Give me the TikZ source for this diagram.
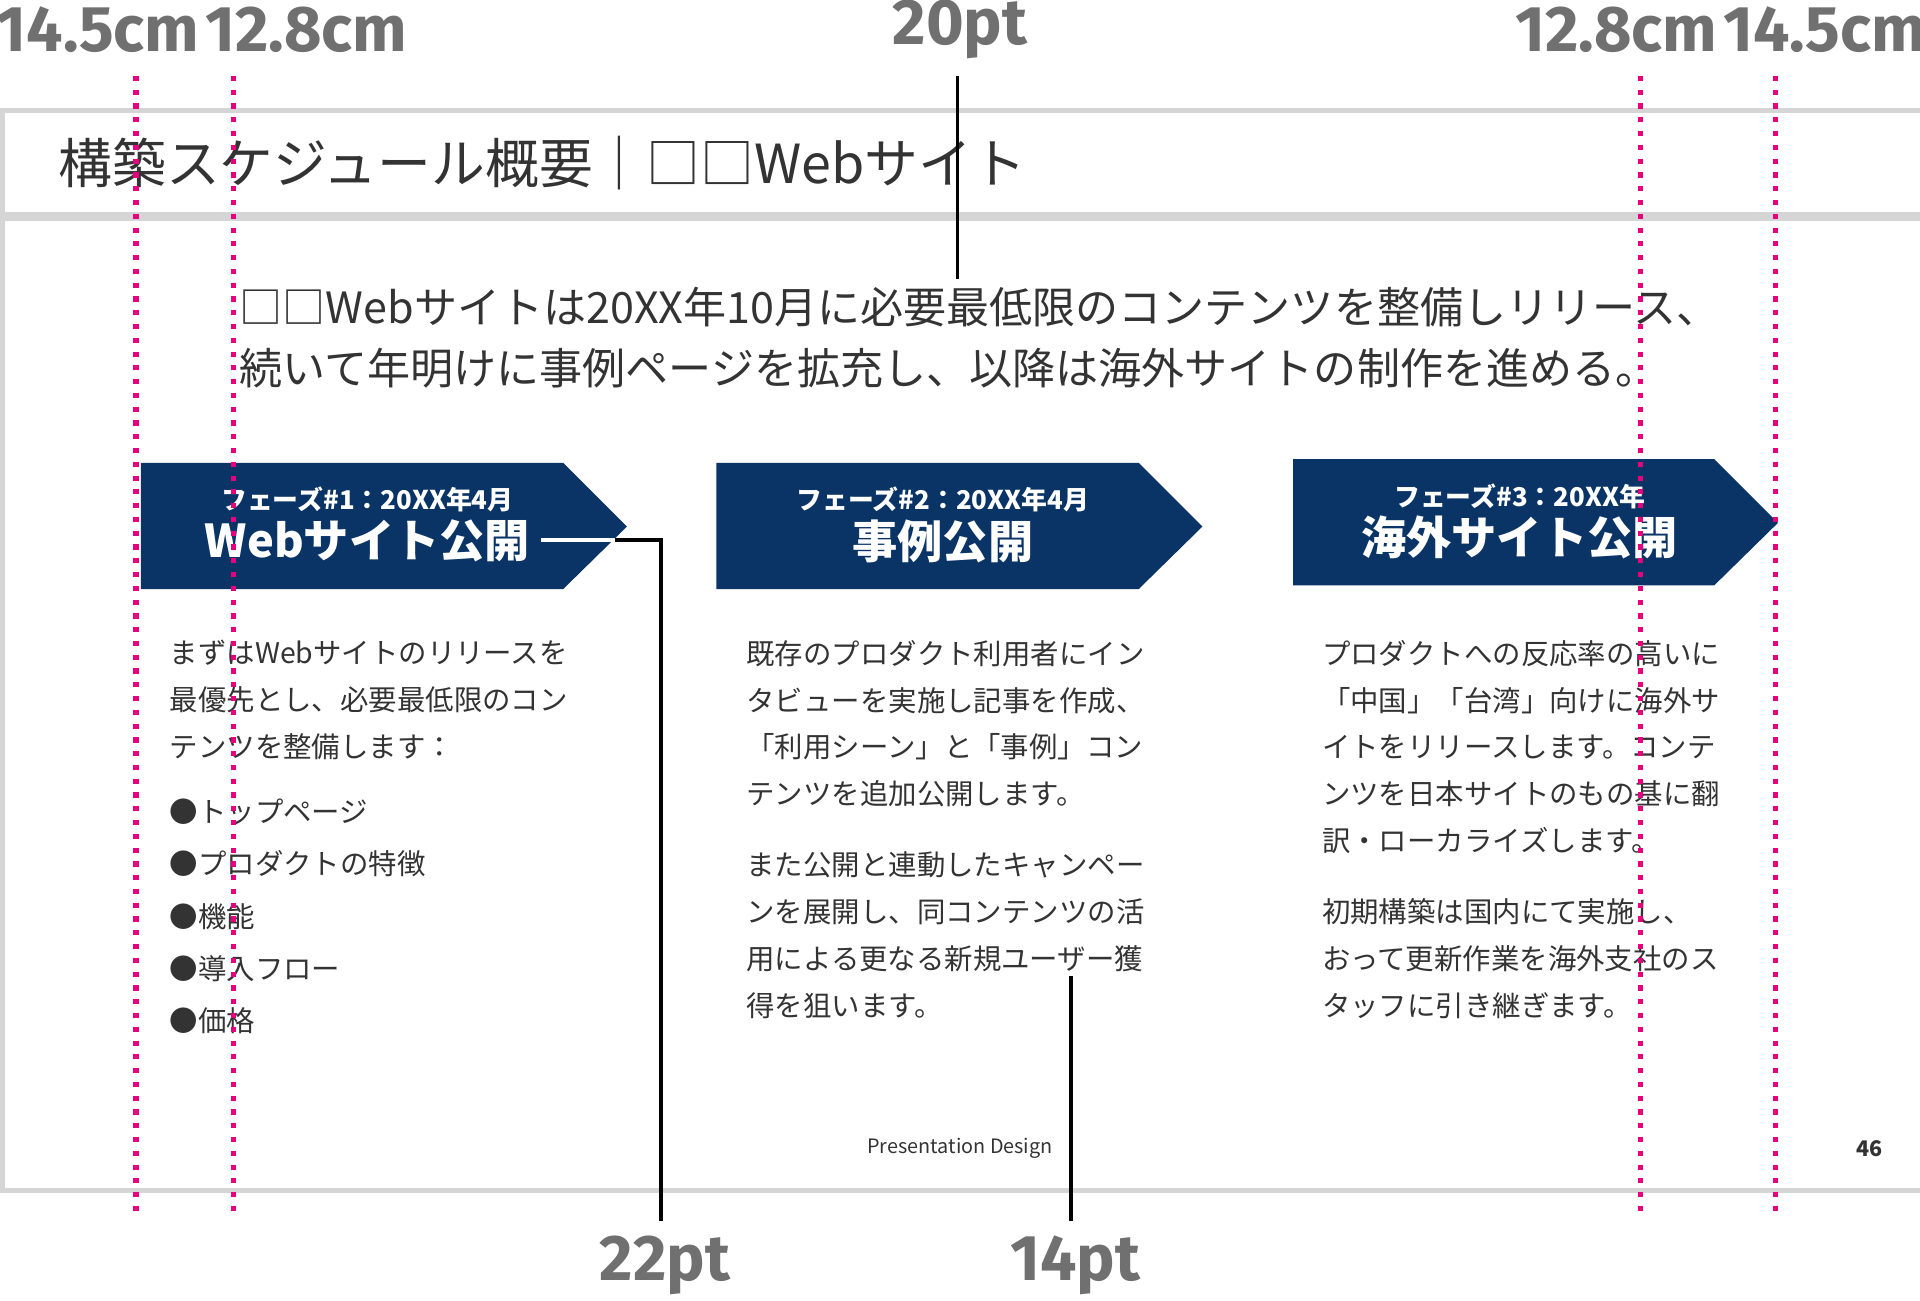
\documentclass[tikz,border=0pt]{standalone}
\usepackage{fontspec}
\setmainfont{Noto Sans CJK JP}
\newfontfamily\dimfont{Fira Sans}
\usetikzlibrary{positioning}
\definecolor{navy}{HTML}{0A3366}
\definecolor{pinkguide}{HTML}{E6007E}
\definecolor{dimgray}{HTML}{707070}
\definecolor{framegray}{HTML}{D5D5D5}
\tikzset{
  guide/.style={pinkguide, line width=1.2pt, dotted},
  dimlabel/.style={dimgray, font=\dimfont\bfseries\fontsize{15}{15}\selectfont},
  leader/.style={black, line width=0.9pt},
  body/.style={anchor=north west, align=left, inner sep=0pt, text=black!80, font=\fontsize{6.6}{10.9}\selectfont},
  phase/.style={white, font=\bfseries\fontsize{6}{6}\selectfont},
  phasetitle/.style={white, font=\bfseries\fontsize{10.5}{10.5}\selectfont},
}
\begin{document}
\begin{tikzpicture}[x=0.01cm, y=-0.01cm]
  \useasboundingbox (0,0) rectangle (1568,1062);

  % slide frame
  \draw[framegray, line width=1.2pt] (1568,90) -- (2,90) -- (2,972) -- (1568,972);
  \draw[framegray, line width=2pt] (2,177) -- (1568,177);
  \node[anchor=west, inner sep=0pt, text=black!80, font=\fontsize{12.5}{12.5}\selectfont] (title) at (47,133) {構築スケジュール概要｜□□Webサイト};

  \node[body, font=\fontsize{10}{14.2}\selectfont] (lead) at (195,234) {□□Webサイトは20XX年10月に必要最低限のコンテンツを整備しリリース、\\続いて年明けに事例ページを拡充し、以降は海外サイトの制作を進める。};

  % phase arrows
  \fill[navy] (115,378) -- (460,378) -- (512,430) -- (460,481) -- (115,481) -- cycle;
  \fill[navy] (585,378) -- (930,378) -- (982,430) -- (930,481) -- (585,481) -- cycle;
  \fill[navy] (1056,375) -- (1400,375) -- (1452,427) -- (1400,478) -- (1056,478) -- cycle;
  \node[phase] (p1) at (300,408) {フェーズ\#1：20XX年4月};
  \node[phasetitle] (t1) at (300,442) {Webサイト公開};
  \node[phase] (p2) at (770,408) {フェーズ\#2：20XX年4月};
  \node[phasetitle] (t2) at (770,442) {事例公開};
  \node[phase] (p3) at (1241,405) {フェーズ\#3：20XX年};
  \node[phasetitle] (t3) at (1241,439) {海外サイト公開};

  % columns
  \node[body] (c1) at (138,522) {まずはWebサイトのリリースを\\最優先とし、必要最低限のコン\\テンツを整備します：};
  \node[body, font=\fontsize{6.6}{12.1}\selectfont] (c1list) at (138,652) {●トップページ\\●プロダクトの特徴\\●機能\\●導入フロー\\●価格};
  \node[body] (c2) at (609,522) {既存のプロダクト利用者にイン\\タビューを実施し記事を作成、\\「利用シーン」と「事例」コン\\テンツを追加公開します。};
  \node[body] (c2b) at (609,695) {また公開と連動したキャンペー\\ンを展開し、同コンテンツの活\\用による更なる新規ユーザー獲\\得を狙います。};
  \node[body] (c3) at (1079,522) {プロダクトへの反応率の高いに\\「中国」「台湾」向けに海外サ\\イトをリリースします。コンテ\\ンツを日本サイトのもの基に翻\\訳・ローカライズします。};
  \node[body] (c3b) at (1079,733) {初期構築は国内にて実施し、\\おって更新作業を海外支社のス\\タッフに引き継ぎます。};

  % footer
  \node[text=black!80, font=\fontsize{4.6}{4.6}\selectfont] (footer) at (784,938) {Presentation Design};
  \node[text=black!80, font=\bfseries\fontsize{5}{5}\selectfont] (page) at (1527,938) {46};

  % guides
  \foreach \gx in {111,191,1340,1450}
    \draw[guide] (\gx,62) -- (\gx,995);

  % dimension labels
  \node[dimlabel] (d1) at (80,24) {14.5cm};
  \node[dimlabel] (d2) at (250,24) {12.8cm};
  \node[dimlabel] (d3) at (784,24) {20pt};
  \node[dimlabel] (d4) at (1320,24) {12.8cm};
  \node[dimlabel] (d5) at (1490,24) {14.5cm};
  \node[dimlabel] (d6) at (543,1033) {22pt};
  \node[dimlabel] (d7) at (878,1033) {14pt};

  % leaders
  \coordinate (l3a) at (782,62);
  \coordinate (l3b) at (782,228);
  \coordinate (l6a) at (442,441);
  \coordinate (l6b) at (540,441);
  \coordinate (l6c) at (540,997);
  \coordinate (l7a) at (875,797);
  \coordinate (l7b) at (875,997);
  \draw[leader] (l3a) -- (l3b);
  \draw[white, line width=0.9pt] (l6a) -- (502,441);
  \draw[leader] (502,441) -- (l6b) -- (l6c);
  \draw[leader] (l7a) -- (l7b);
\end{tikzpicture}
\end{document}
